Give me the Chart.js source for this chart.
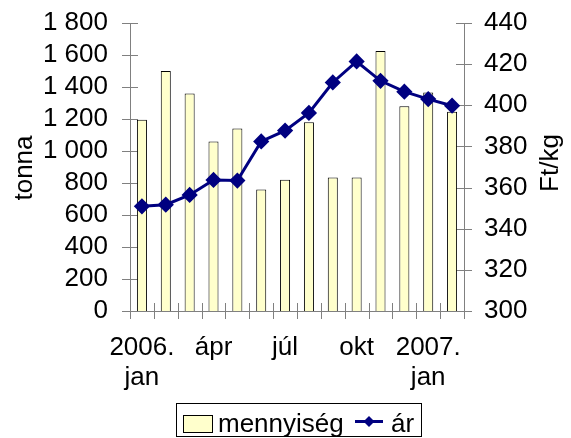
<!DOCTYPE html>
<html><head><meta charset="utf-8">
<script src="https://cdn.jsdelivr.net/npm/chart.js@4"></script>
<style>html,body{margin:0;padding:0;background:#fff}#wrap{width:571px;height:438px}</style>
</head><body><div id="wrap"><canvas id="c" width="571" height="438"></canvas></div>
<script>
const categories = [["2006.","jan"],"","","ápr","","","júl","","","okt","","",["2007.","jan"],""];
const quantity = [1195,1500,1360,1060,1140,760,820,1180,835,835,1625,1280,1365,1245];
const price = [350.9,351.7,356.4,363.7,363.4,382.4,387.7,396.3,411.1,421.3,411.9,406.6,403.0,399.8];
const leftTicks = {min:0,max:1800,step:200};
const rightTicks = {min:300,max:440,step:20};
const seriesNames = ["mennyiség","ár"];
const axisTitles = {left:"tonna", right:"Ft/kg"};

const FONT = "'Liberation Sans', Arial, sans-serif";
const FS = 26;
const AX = '#808080';
const BAR_FILL = '#FFFFCC', LINE_COL = '#000080';

const decorations = {
  id:'decorations',
  beforeDatasetsDraw(chart){
    const ctx=chart.ctx, a=chart.chartArea;
    ctx.save();ctx.strokeStyle=AX;ctx.lineWidth=1;
    const y=chart.scales.y, y1=chart.scales.y1, x=chart.scales.x;
    y.ticks.forEach(t=>{const p=Math.round(y.getPixelForValue(t.value))+0.5;ctx.beginPath();ctx.moveTo(a.left-8,p);ctx.lineTo(a.left+8,p);ctx.stroke();});
    y1.ticks.forEach(t=>{const p=Math.round(y1.getPixelForValue(t.value))+0.5;ctx.beginPath();ctx.moveTo(a.right-8,p);ctx.lineTo(a.right+8,p);ctx.stroke();});
    const n=categories.length, w=(x.getPixelForValue(1)-x.getPixelForValue(0));
    for(let i=0;i<=n;i++){const p=Math.round(x.getPixelForValue(0)-w/2+i*w)+0.5;ctx.beginPath();ctx.moveTo(p,a.bottom-8);ctx.lineTo(p,a.bottom+8);ctx.stroke();}
    ctx.restore();
  },
  afterDraw(chart){
    const ctx=chart.ctx;
    const font=FS+'px '+FONT;
    // axis titles
    ctx.save();ctx.fillStyle='#000';ctx.font=font;ctx.textAlign='center';ctx.textBaseline='middle';
    ctx.translate(25,168);ctx.rotate(-Math.PI/2);ctx.fillText(axisTitles.left,0,0);ctx.restore();
    ctx.save();ctx.fillStyle='#000';ctx.font=font;ctx.textAlign='center';ctx.textBaseline='middle';
    ctx.translate(551,163);ctx.rotate(-Math.PI/2);ctx.fillText(axisTitles.right,0,0);ctx.restore();
    // legend
    const dsBar=chart.data.datasets[1], dsLine=chart.data.datasets[0];
    ctx.save();
    ctx.strokeStyle='#000';ctx.lineWidth=1;ctx.strokeRect(176.5,403.5,245,33);
    ctx.fillStyle=dsBar.backgroundColor;ctx.fillRect(183.5,415.5,29,17);ctx.strokeStyle=dsBar.borderColor;ctx.strokeRect(183.5,415.5,29,17);
    ctx.fillStyle='#000';ctx.font=font;ctx.textAlign='left';ctx.textBaseline='alphabetic';
    ctx.fillText(dsBar.label,218,432);
    ctx.strokeStyle=dsLine.borderColor;ctx.lineWidth=3;ctx.beginPath();ctx.moveTo(355,421.5);ctx.lineTo(383,421.5);ctx.stroke();
    ctx.fillStyle=dsLine.borderColor;ctx.beginPath();ctx.moveTo(369,416);ctx.lineTo(374.5,421.5);ctx.lineTo(369,427);ctx.lineTo(363.5,421.5);ctx.closePath();ctx.fill();
    ctx.fillStyle='#000';ctx.fillText(dsLine.label,391,432);
    ctx.restore();
  }
};

new Chart(document.getElementById('c'),{
  data:{labels:categories,datasets:[
    {type:'line',label:seriesNames[1],data:price,yAxisID:'y1',borderColor:LINE_COL,backgroundColor:LINE_COL,borderWidth:3,pointStyle:'rectRot',pointRadius:6,pointHoverRadius:6,pointBackgroundColor:LINE_COL,pointBorderColor:LINE_COL,tension:0,order:0},
    {type:'bar',label:seriesNames[0],data:quantity,yAxisID:'y',backgroundColor:BAR_FILL,borderColor:'#000',borderWidth:1,categoryPercentage:1,barPercentage:0.42,order:1}
  ]},
  plugins:[decorations],
  options:{
    responsive:false,animation:false,
    layout:{padding:{left:29,right:0,top:23,bottom:40}},
    plugins:{tooltip:{enabled:false},legend:{display:false}},
    scales:{
      x:{offset:true,grid:{display:false,drawTicks:false},border:{display:true,color:AX,width:1},
        ticks:{autoSkip:false,maxRotation:0,minRotation:0,padding:22,color:'#000',font:{family:FONT,size:FS,lineHeight:30/FS}},
        afterFit(s){s.height=87;s.paddingLeft=0;s.paddingRight=0;}},
      y:{position:'left',min:leftTicks.min,max:leftTicks.max,grid:{display:false,drawTicks:false},border:{display:true,color:AX,width:1},
        ticks:{autoSkip:false,stepSize:leftTicks.step,padding:22,color:'#000',font:{family:FONT,size:FS},callback:v=>String(v).replace(/\B(?=(\d{3})+(?!\d))/g,' ')},
        afterFit(s){s.width=101;s.paddingTop=0;s.paddingBottom=0;}},
      y1:{position:'right',min:rightTicks.min,max:rightTicks.max,grid:{display:false,drawTicks:false},border:{display:true,color:AX,width:1},
        ticks:{autoSkip:false,stepSize:rightTicks.step,padding:20,color:'#000',font:{family:FONT,size:FS}},
        afterFit(s){s.width=107;s.paddingTop=0;s.paddingBottom=0;}}
    }
  }
});
</script></body></html>
